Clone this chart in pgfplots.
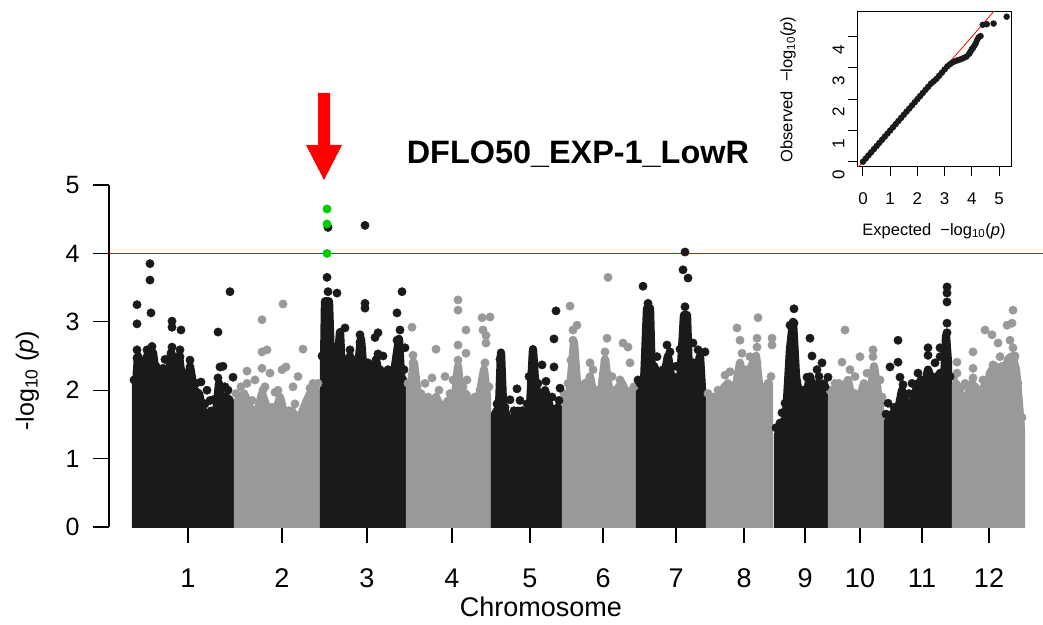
\documentclass[border=0pt]{standalone}
\usepackage{fontspec}
\setmainfont{Liberation Sans}
\usepackage{pgfplots}
\pgfplotsset{compat=1.18}
\definecolor{mblack}{RGB}{26,26,26}
\definecolor{mgray}{RGB}{153,153,153}
\definecolor{mgreen}{RGB}{0,205,0}
\definecolor{mred}{RGB}{255,0,0}
\newcommand{\fs}[1]{\fontsize{#1}{#1}\selectfont}
\pgfplotsset{
  chrblack/.style={fill=mblack, draw=mblack, line width=8.3pt, line join=round, forget plot},
  chrgray/.style={fill=mgray, draw=mgray, line width=8.3pt, line join=round, forget plot},
}
\begin{document}
\begin{tikzpicture}[x=1pt,y=1pt]
\begin{axis}[
  at={(109pt,97pt)}, anchor=south west,
  scale only axis, width=934pt, height=342pt,
  xmin=109, xmax=1043, ymin=0, ymax=5,
  axis x line*=bottom, axis y line*=left,
  axis line style={-},
  x axis line style={draw=none},
  y axis line style={line width=1.2pt},
  ytick={0,1,2,3,4,5},
  xtick={188,282,367,452,530,603,676,744,805,860,922,989},
  xticklabels={1,2,3,4,5,6,7,8,9,10,11,12},
  tick align=outside,
  major tick length=16pt,
  tick style={line width=1.2pt, black},
  /pgf/number format/assume math mode=true,
  yticklabel style={font=\fs{25}, xshift=-10pt},
  xticklabel style={font=\fs{27}, yshift=-22pt},
  title={\textbf{DFLO50\_EXP-1\_LowR}},
  title style={at={(axis description cs:0.502,1.073)}, anchor=center, font=\fs{32.4}},
  xlabel={Chromosome},
  xlabel style={at={(axis description cs:0.4625,-0.234)}, anchor=center, font=\fs{27}},
  ylabel={-log\textsubscript{10} (\textit{p})},
  ylabel style={at={(axis description cs:-0.0873,0.427)}, anchor=center, font=\fs{25}},
]
% chr1
\addplot[chrblack] coordinates {(136,-0.5) (136,2.05) (138,2.5) (141,2.05) (147,2.5) (150,1.95) (153,2.55) (156,2.2) (160,1.95) (163,2.25) (167,1.9) (171,2.55) (175,2.4) (179,2.5) (183,2.05) (187,1.95) (190,2.35) (194,2.0) (199,1.95) (203,1.7) (207,1.55) (211,1.7) (215,1.5) (219,2.1) (222,1.75) (226,1.9) (230,1.85) (230,-0.5)} \closedcycle;
% chr2
\addplot[chrgray] coordinates {(238,-0.5) (238,1.85) (244,1.95) (250,1.75) (256,1.6) (262,1.95) (268,1.7) (274,1.6) (280,1.9) (286,1.55) (292,1.7) (298,1.5) (304,1.75) (310,1.95) (316,2.0) (316,-0.5)} \closedcycle;
% chr3
\addplot[chrblack] coordinates {(324,-0.5) (324,2.35) (325,3.3) (329,3.3) (331,2.4) (334,2.2) (337,2.3) (340,2.85) (342,2.25) (346,2.3) (350,2.5) (354,2.15) (358,2.35) (361,2.75) (364,2.2) (368,2.35) (372,2.1) (376,2.45) (380,2.15) (384,2.1) (388,2.2) (392,2.05) (396,2.45) (399,2.75) (401,2.2) (403,2.15) (403,-0.5)} \closedcycle;
% chr4
\addplot[chrgray] coordinates {(410,-0.5) (410,2.0) (414,2.4) (418,1.9) (424,1.85) (430,1.75) (436,1.9) (442,1.7) (448,1.85) (454,1.75) (458,2.35) (461,1.9) (466,1.95) (472,1.7) (478,1.8) (484,2.3) (487,1.9) (487,-0.5)} \closedcycle;
% chr5
\addplot[chrblack] coordinates {(495,-0.5) (495,1.65) (499,1.75) (501,2.55) (503,1.8) (507,1.6) (512,1.55) (518,1.7) (524,1.55) (530,1.75) (533,2.6) (536,1.9) (540,1.7) (545,2.0) (550,1.75) (554,1.7) (558,1.75) (558,-0.5)} \closedcycle;
% chr6
\addplot[chrgray] coordinates {(566,-0.5) (566,1.85) (570,2.0) (574,2.7) (578,1.9) (584,1.85) (590,2.2) (594,1.9) (600,1.85) (605,2.45) (610,1.9) (616,1.95) (622,2.1) (628,1.9) (632,2.0) (632,-0.5)} \closedcycle;
% chr7
\addplot[chrblack] coordinates {(640,-0.5) (640,2.05) (644,2.1) (647,3.2) (650,3.2) (652,2.1) (656,2.3) (660,2.0) (664,2.2) (668,2.5) (672,2.1) (676,2.0) (680,2.1) (684,3.1) (687,3.1) (689,2.2) (693,2.4) (697,2.3) (700,2.5) (702,2.0) (702,-0.5)} \closedcycle;
% chr8
\addplot[chrgray] coordinates {(710,-0.5) (710,1.85) (716,1.75) (722,2.0) (728,2.1) (734,1.9) (740,2.4) (744,1.9) (750,2.3) (756,2.5) (760,1.95) (764,1.8) (769,2.1) (769,-0.5)} \closedcycle;
% chr9
\addplot[chrblack] coordinates {(778,-0.5) (778,1.35) (782,1.45) (786,1.6) (790,2.6) (793,3.0) (796,2.2) (800,1.85) (806,1.9) (810,2.2) (814,1.9) (818,2.1) (822,1.95) (824,2.1) (824,-0.5)} \closedcycle;
% chr10
\addplot[chrgray] coordinates {(832,-0.5) (832,1.9) (836,2.05) (842,1.95) (848,2.15) (852,1.85) (858,1.8) (864,2.1) (870,1.9) (874,2.35) (878,1.95) (880,1.8) (880,-0.5)} \closedcycle;
% chr11
\addplot[chrblack] coordinates {(888,-0.5) (888,1.55) (892,1.65) (898,1.7) (902,2.0) (906,1.75) (912,1.8) (918,2.1) (924,2.0) (928,2.3) (934,2.05) (940,2.25) (944,2.1) (946,2.8) (948,2.4) (948,-0.5)} \closedcycle;
% chr12
\addplot[chrgray] coordinates {(956,-0.5) (956,2.1) (960,1.95) (966,1.85) (972,2.1) (976,1.9) (982,2.0) (988,2.15) (992,2.3) (996,2.2) (1000,2.3) (1004,2.2) (1008,2.45) (1012,2.5) (1016,2.3) (1019,1.8) (1021,1.4) (1021,-0.5)} \closedcycle;
% gray points
\addplot[only marks, mark=*, mark size=4.2pt, mgray, forget plot] coordinates {
(262,3.03) (283,3.26) (262,2.56) (267,2.59) (262,2.32) (247,2.28) (303,2.60) (286,2.34) (282,2.30) (293,2.05) (275,1.97) (263,2.0) (247,2.1) (310,2.03) (270,2.25) (255,2.15) (298,2.2)
(236,1.95) (241,2.05) (252,1.85) (259,1.75) (265,2.05) (272,1.75) (278,2.0) (289,1.7) (295,1.8) (301,1.65) (307,1.85) (313,2.1) (318,2.1)
(412,2.92) (458,3.32) (458,3.17) (466,2.88) (436,2.60) (458,2.66) (458,2.44) (466,2.54) (482,3.06) (490,3.07) (483,2.88) (486,2.80) (486,2.69) (485,2.40) (432,2.18) (413,2.51) (413,2.40) (453,2.15) (467,2.15) (477,1.86) (445,2.2) (425,2.1)
(408,2.1) (416,2.05) (421,1.95) (428,1.9) (433,1.85) (439,2.0) (450,1.95) (456,1.9) (463,2.05) (469,1.85) (475,1.9) (480,2.0) (489,2.05)
(608,3.65) (570,3.23) (577,2.95) (573,2.88) (573,2.73) (571,2.44) (607,2.76) (605,2.56) (605,2.44) (623,2.69) (628,2.63) (590,2.40) (593,2.30) (630,2.40) (620,2.15) (585,2.1) (612,2.2)
(564,1.95) (568,2.1) (581,2.0) (587,1.95) (597,2.0) (602,1.95) (608,2.05) (614,2.0) (619,2.05) (625,2.0) (634,2.05)
(737,2.91) (758,3.06) (740,2.73) (757,2.76) (757,2.63) (772,2.76) (772,2.66) (742,2.54) (750,2.49) (725,2.22) (730,2.27) (757,2.40) (768,2.1) (718,2.0) (745,2.3)
(708,1.95) (713,1.9) (719,1.85) (725,2.05) (731,2.0) (737,2.05) (747,2.05) (753,2.15) (762,2.05) (766,1.95) (771,2.2)
(845,2.88) (860,2.49) (873,2.59) (873,2.49) (842,2.41) (850,2.30) (867,2.25) (835,2.10) (855,2.2) (880,2.15)
(830,2.0) (839,2.1) (845,2.05) (850,2.0) (855,1.95) (861,1.95) (867,2.05) (872,2.0) (877,2.05) (882,1.9)
(1013,3.17) (1012,2.98) (1007,2.95) (985,2.88) (992,2.81) (973,2.56) (998,2.69) (1010,2.73) (1013,2.62) (993,2.37) (973,2.32) (973,2.18) (983,2.15) (1000,2.49) (957,2.41) (957,2.25) (1020,1.52) (1015,2.5) (1005,2.2) (965,2.1)
(954,2.2) (962,2.05) (969,1.95) (975,2.05) (979,2.0) (986,2.1) (990,2.25) (995,2.35) (1002,2.35) (1006,2.3) (1010,2.4) (1014,2.45) (1018,2.1) (1022,1.6)
};
% black points
\addplot[only marks, mark=*, mark size=4.2pt, mblack, forget plot] coordinates {
(150,3.85) (150,3.61) (137,3.25) (137,2.97) (151,3.13) (172,3.01) (172,2.92) (181,2.88) (230,3.44) (218,2.85) (223,2.35) (233,2.19) (201,2.12) (137,2.59) (147,2.59) (152,2.64) (137,2.47) (147,2.47) (137,2.27) (152,2.30) (163,2.32) (172,2.63) (180,2.59) (190,2.44) (180,2.49) (173,2.30) (188,2.25) (220,2.34) (218,2.18) (207,2.0) (213,1.86) (228,2.0) (165,2.45) (158,2.3)
(134,2.15) (142,2.2) (156,2.35) (168,2.05) (185,2.15) (196,2.1) (205,1.8) (210,1.85) (216,1.7) (225,2.05)
(328,4.38) (365,4.41) (327,3.65) (328,3.44) (337,3.42) (365,3.27) (365,3.2) (402,3.44) (397,3.13) (400,2.88) (397,2.73) (345,2.91) (360,2.81) (360,2.7) (378,2.84) (375,2.77) (340,2.73) (340,2.6) (340,2.45) (350,2.59) (360,2.40) (368,2.40) (378,2.53) (388,2.30) (397,2.47) (405,2.62) (355,2.25) (383,2.5) (392,2.2)
(322,2.5) (333,2.35) (344,2.4) (352,2.35) (357,2.45) (366,2.3) (372,2.25) (380,2.3) (386,2.25) (395,2.2) (404,2.3)
(556,3.16) (554,2.75) (554,2.34) (546,2.13) (517,2.02) (542,2.37) (560,2.03) (510,1.86) (507,1.61) (500,2.45) (533,2.45) (529,2.2) (520,1.85) (538,2.1)
(497,1.8) (505,1.75) (514,1.7) (522,1.7) (527,1.8) (537,2.0) (548,1.85) (552,1.9) (559,1.85)
(643,3.52) (648,3.27) (685,4.02) (683,3.76) (688,3.64) (685,3.22) (667,2.66) (670,2.56) (693,2.69) (705,2.56) (698,2.59) (648,2.51) (657,2.49) (663,2.30) (647,2.25) (640,2.10) (693,2.40) (688,2.30) (676,2.35) (680,2.6)
(638,2.15) (654,2.35) (661,2.15) (666,2.3) (673,2.2) (678,2.15) (691,2.3) (696,2.4) (701,2.15)
(794,3.19) (790,2.95) (794,2.98) (810,2.76) (793,2.73) (793,2.59) (817,2.30) (807,2.19) (828,2.19) (815,2.05) (785,1.81) (782,1.67) (780,1.52) (812,2.5) (822,2.4)
(776,1.45) (784,1.55) (798,2.0) (803,2.0) (808,2.05) (813,2.0) (819,2.2) (825,2.05)
(947,3.51) (947,3.42) (947,3.29) (947,2.98) (947,2.84) (898,2.73) (928,2.62) (940,2.62) (928,2.51) (940,2.49) (898,2.41) (890,2.34) (900,2.19) (918,2.25) (947,2.44) (947,2.30) (903,2.08) (888,1.81) (935,2.4) (912,2.1)
(886,1.65) (894,1.75) (905,1.85) (909,1.95) (915,1.95) (921,2.15) (926,2.1) (931,2.2) (937,2.2) (943,2.25) (950,2.2)
};
% threshold line at -log10(p) = 4
\addplot[draw=mred, line width=1.5pt, mark=none, forget plot] coordinates {(109,4) (1043,4)};
% highlighted SNPs
\addplot[only marks, mark=*, mark size=4.2pt, mgreen, forget plot] coordinates {(327,4.65) (327,4.43) (327,4.0)};
\end{axis}
% red arrow
\fill[mred] (318,531)--(330,531)--(330,479)--(342,479)--(324,444)--(306,479)--(318,479)--cycle;
% QQ inset
\begin{axis}[
  at={(857pt,457pt)}, anchor=south west,
  scale only axis, width=154pt, height=155pt,
  xmin=-0.22, xmax=5.44, ymin=-0.17, ymax=4.79,
  axis line style={line width=1pt},
  xtick={0,1,2,3,4,5}, ytick={0,1,2,3,4},
  tick pos=left,
  tick align=outside, major tick length=9pt,
  tick style={line width=1pt, black},
  /pgf/number format/assume math mode=true,
  ticklabel style={font=\fs{17}},
  xticklabel style={yshift=-13pt},
  yticklabel style={rotate=90, anchor=south, xshift=-13pt},
  xlabel={Expected\ \ −log\textsubscript{10}(\textit{p})},
  xlabel style={at={(axis description cs:0.5,-0.413)}, anchor=center, font=\fs{16.5}},
  ylabel={Observed\ \ −log\textsubscript{10}(\textit{p})},
  ylabel style={at={(axis description cs:-0.448,0.5)}, anchor=center, font=\fs{16.5}},
]
\addplot[only marks, mark=*, mark size=3pt, mblack, forget plot] coordinates {
(0,0) (0.1,0.1) (0.2,0.2) (0.3,0.3) (0.4,0.4) (0.5,0.5) (0.6,0.6) (0.7,0.7) (0.8,0.8) (0.9,0.9) (1.0,1.0) (1.1,1.1) (1.2,1.2) (1.3,1.3) (1.4,1.4) (1.5,1.5) (1.6,1.6) (1.7,1.7) (1.8,1.8) (1.9,1.9) (2.0,2.0) (2.1,2.1) (2.2,2.2) (2.3,2.3) (2.4,2.4) (2.5,2.5) (2.6,2.57) (2.7,2.65) (2.8,2.75) (2.9,2.85) (3.0,2.95) (3.1,3.05) (3.2,3.12) (3.3,3.18) (3.4,3.22) (3.5,3.25) (3.6,3.28) (3.7,3.32) (3.8,3.36) (3.9,3.45) (3.95,3.52) (4.0,3.6) (4.05,3.65) (4.1,3.72) (4.15,3.8) (4.2,3.9) (4.25,3.98) (4.32,4.02) (4.4,4.38) (4.55,4.4) (4.8,4.42) (5.28,4.64)
};
\addplot[draw=mred, line width=0.8pt, forget plot] coordinates {(-0.3,-0.3) (5,5)};
\end{axis}
\pgfresetboundingbox
\useasboundingbox (0,0) rectangle (1043,624);
\end{tikzpicture}
\end{document}
